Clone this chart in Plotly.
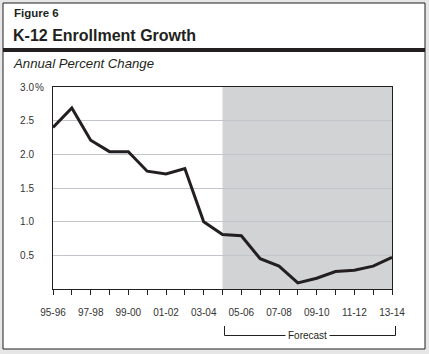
import plotly.graph_objects as go

years = ["95-96", "96-97", "97-98", "98-99", "99-00", "00-01", "01-02", "02-03",
         "03-04", "04-05", "05-06", "06-07", "07-08", "08-09", "09-10", "10-11",
         "11-12", "12-13", "13-14"]
growth = [2.40, 2.69, 2.21, 2.04, 2.04, 1.75, 1.71, 1.79, 1.00, 0.81, 0.79,
          0.45, 0.34, 0.09, 0.16, 0.26, 0.28, 0.34, 0.47]
forecast_start = "04-05"
y_ticks = [0.5, 1.0, 1.5, 2.0, 2.5, 3.0]
y_ticktext = ["0.5", "1.0", "1.5", "2.0", "2.5", "3.0"]

W, H = 429, 354
L, R, T, B = 53, 37, 87, 65
pw, ph = W - L - R, H - T - B


def px(p):
    return (p - L) / pw


def py(p):
    return (H - B - p) / ph


xs = list(range(len(years)))
fi = years.index(forecast_start)
FONT = "Liberation Sans, Arial"

fig = go.Figure()
fig.add_trace(go.Scatter(x=xs, y=growth, mode="lines",
                         line=dict(color="#231f20", width=3),
                         hoverinfo="skip", showlegend=False))

shapes = [
    dict(type="rect", xref="paper", yref="paper", x0=px(3), x1=px(425),
         y0=py(349), y1=py(3), fillcolor="white",
         line=dict(color="#231f20", width=1), layer="below"),
    dict(type="rect", xref="paper", yref="paper", x0=px(3), x1=px(425),
         y0=py(52), y1=py(48), fillcolor="#231f20", line=dict(width=0),
         layer="below"),
    dict(type="rect", xref="x", yref="y", x0=fi, x1=len(years) - 1,
         y0=0, y1=3, fillcolor="#d2d3d5", line=dict(width=0), layer="below"),
    dict(type="path", xref="paper", yref="paper",
         path=f"M {px(224.5)},{py(326)} L {px(224.5)},{py(335.5)} "
              f"L {px(395.5)},{py(335.5)} L {px(395.5)},{py(326)}",
         line=dict(color="#231f20", width=1)),
]

annotations = [
    dict(text="<b>Figure 6</b>", x=px(11.5), y=py(13.5), xref="paper", yref="paper",
         xanchor="left", yanchor="middle", showarrow=False,
         font=dict(family=FONT, size=11.5, color="#231f20")),
    dict(text="<b>K-12 Enrollment Growth</b>", x=px(11), y=py(35), xref="paper",
         yref="paper", xanchor="left", yanchor="middle", showarrow=False,
         font=dict(family=FONT, size=16, color="#231f20")),
    dict(text="<i>Annual Percent Change</i>", x=px(10.5), y=py(64), xref="paper",
         yref="paper", xanchor="left", yanchor="middle", showarrow=False,
         font=dict(family=FONT, size=13.2, color="#231f20")),
    dict(text="Forecast", x=px(307.5), y=py(335.5), xref="paper", yref="paper",
         xanchor="center", yanchor="middle", showarrow=False, bgcolor="white",
         borderpad=2,
         font=dict(family=FONT, size=10, color="#231f20")),
    dict(text="%", x=px(33.5), y=3.0, xref="paper", yref="y",
         xanchor="left", yanchor="middle", showarrow=False, borderpad=0,
         font=dict(family=FONT, size=10, color="#333333")),
]

fig.update_layout(
    width=W, height=H, margin=dict(l=L, r=R, t=T, b=B),
    paper_bgcolor="#e6e6e6", plot_bgcolor="rgba(0,0,0,0)",
    shapes=shapes, annotations=annotations,
    font=dict(family=FONT, size=10, color="#333333"),
    xaxis=dict(range=[0, len(years) - 1], tickvals=xs,
               ticktext=[y if i % 2 == 0 else "" for i, y in enumerate(years)],
               ticks="outside", ticklen=5, tickcolor="#231f20", tickwidth=1,
               showline=True, linecolor="#231f20", linewidth=1, mirror=True,
               showgrid=False, zeroline=False, tickangle=0,
               ticklabelstandoff=9, tickfont=dict(size=10, color="#333333")),
    yaxis=dict(range=[0, 3], tickvals=y_ticks, ticktext=y_ticktext,
               showline=True, linecolor="#231f20", linewidth=1, mirror=True,
               showgrid=True, gridcolor="#c2c5cb", gridwidth=1, zeroline=False,
               ticks="", ticklabelstandoff=16,
               tickfont=dict(size=10, color="#333333")),
)

fig.write_html("out.html")
